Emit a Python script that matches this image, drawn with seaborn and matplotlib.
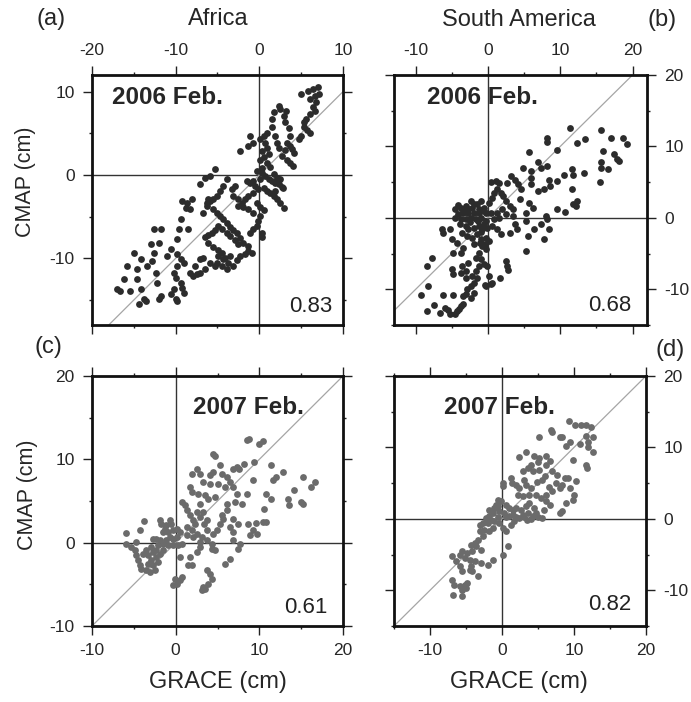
import seaborn as sns
import matplotlib.pyplot as plt
import pandas as pd
from matplotlib.ticker import MultipleLocator

sns.set_style("ticks")
plt.rcParams['font.family'] = ['Liberation Sans', 'DejaVu Sans']
plt.rcParams['axes.unicode_minus'] = False

# (GRACE, CMAP) pairs in cm
africa_2006 = [
    (5.0, 9.7), (5.8, 10.1), (6.4, 10.3), (7.0, 10.6), (6.0, 9.1), (6.6, 9.5), (7.1, 9.7), (6.8, 8.7),
    (6.4, 8.1), (6.7, 7.7), (6.1, 7.3), (5.6, 6.7), (5.3, 6.3), (5.3, 5.7), (5.7, 5.4), (6.0, 5.1),
    (5.0, 4.7), (4.8, 4.3), (2.3, 8.3), (2.5, 7.9), (3.2, 7.7), (2.9, 7.1), (1.7, 7.5), (1.5, 6.7),
    (3.1, 6.3), (3.5, 5.6), (3.7, 4.7), (3.3, 3.9), (3.7, 3.5), (3.9, 3.1), (4.1, 2.7), (3.1, 3.0),
    (2.7, 2.3), (3.3, 1.8), (3.7, 1.4), (4.0, 1.1), (2.1, 3.9), (2.3, 3.3), (0.9, 5.1), (0.5, 4.7),
    (0.1, 4.3), (0.7, 3.9), (0.9, 3.3), (0.3, 2.9), (1.1, 2.5), (0.5, 2.2), (0.1, 1.8), (0.9, 1.4),
    (1.3, 1.0), (0.3, 0.9), (1.5, 5.7), (1.9, 4.7), (-1.1, 4.7), (-0.7, 3.9), (-1.3, 3.5), (-2.3, 2.9),
    (-0.3, 0.5), (0.3, 0.3), (0.7, -0.1), (1.1, -0.5), (1.5, -0.7), (1.9, -0.9), (2.3, -1.1), (1.7, 0.1),
    (2.1, -0.3), (2.5, -0.5), (2.7, -1.4), (0.1, -0.5), (-0.7, -0.7), (-1.1, -0.9), (-1.5, -0.7),
    (-0.5, -1.3), (-0.1, -1.7), (0.5, -1.5), (0.9, -1.9), (1.3, -2.1), (1.7, -2.5), (2.1, -2.9),
    (2.5, -3.4), (2.9, -3.9), (1.9, -1.9), (2.8, -1.6), (-0.7, -2.1), (-1.3, -2.5), (-1.7, -2.9),
    (-2.1, -3.3), (-2.6, -3.7), (-2.9, -1.3), (-3.3, -1.7), (-3.1, -2.5), (-2.5, -2.9), (-1.9, -3.8),
    (-1.3, -4.1), (-0.7, -4.5), (-0.3, -3.3), (0.1, -3.8), (0.5, -4.2), (0.1, -4.9), (-0.1, -5.5),
    (0.3, -6.9), (0.3, -7.4), (-0.3, -6.1), (-0.7, -6.5), (-1.1, -6.9), (-3.9, -0.5), (-4.3, -1.3),
    (-4.7, -1.9), (-5.1, -2.5), (-5.5, -2.9), (-5.9, -3.1), (-6.3, -3.4), (-5.5, -4.1), (-5.1, -4.5),
    (-4.7, -4.9), (-4.3, -5.3), (-3.9, -5.7), (-3.5, -6.2), (-3.1, -6.6), (-2.7, -7.0), (-2.3, -7.5),
    (-2.9, -7.8), (-3.5, -7.3), (-3.9, -6.9), (-4.5, -6.5), (-4.9, -6.1), (-5.3, -6.6), (-5.7, -7.0),
    (-6.1, -7.2), (-6.5, -7.4), (-6.1, -8.1), (-5.5, -8.6), (-4.9, -9.0), (-4.5, -9.4), (-4.1, -9.9),
    (-3.7, -10.5), (-3.1, -10.9), (-2.7, -10.2), (-2.3, -9.7), (-1.7, -9.5), (-1.4, -9.1), (-0.9, -9.3),
    (-1.3, -8.5), (-1.9, -8.1), (-2.5, -8.3), (-5.3, 0.7), (-5.9, -0.1), (-6.5, -0.3), (-7.1, -1.1),
    (-6.1, -2.9), (-6.3, -3.7), (-6.7, -4.5), (-4.9, -9.7), (-5.1, -10.5), (-5.3, -10.9), (-5.9, -10.5),
    (-6.5, -11.3), (-7.1, -11.7), (-7.5, -11.9), (-7.9, -12.1), (-7.1, -10.1), (-6.7, -9.9),
    (-3.9, -11.3), (-4.5, -10.9), (-3.5, -9.7), (-4.3, -10.1), (-8.7, -3.3), (-8.8, -3.9), (-9.2, -3.1),
    (-8.1, -2.9), (-8.3, -4.1), (-9.4, -5.3), (-8.5, -6.5), (-9.6, -6.5), (-9.8, -7.7), (-9.8, -9.5),
    (-9.4, -10.1), (-9.0, -10.5), (-9.8, -10.9), (-10.2, -11.7), (-10.0, -12.3), (-9.4, -12.9),
    (-9.2, -13.5), (-9.0, -14.1), (-10.2, -13.7), (-10.6, -14.3), (-10.0, -14.9), (-9.8, -15.1),
    (-12.6, -6.5), (-11.8, -6.5), (-12.0, -8.1), (-13.0, -8.3), (-12.6, -9.3), (-12.8, -10.3),
    (-13.4, -10.9), (-14.2, -10.1), (-14.6, -11.3), (-15.0, -9.3), (-15.8, -10.9), (-16.2, -12.5),
    (-17.0, -13.7), (-16.6, -13.9), (-15.4, -13.9), (-14.6, -12.5), (-14.2, -13.7), (-13.8, -14.9),
    (-13.6, -15.1), (-14.4, -15.5), (-12.4, -11.7), (-12.2, -12.9), (-11.8, -14.5), (-12.0, -14.9),
    (-10.6, -8.9), (-11.0, -9.7), (-8.3, -11.7), (-7.7, -10.9),
]

samerica_2006 = [
    (11.4, 12.6), (15.6, 12.3), (17.0, 11.2), (18.7, 11.2), (19.2, 10.4), (8.1, 11.2), (8.2, 10.6),
    (12.3, 10.5), (13.4, 11.0), (9.6, 9.5), (5.7, 9.2), (15.9, 9.3), (17.5, 9.0), (17.9, 8.3),
    (18.1, 7.9), (15.6, 7.8), (15.6, 7.0), (16.6, 6.8), (15.5, 5.0), (13.3, 6.3), (11.6, 6.8),
    (11.8, 6.0), (10.5, 6.0), (9.6, 5.1), (8.4, 5.3), (8.1, 7.2), (6.9, 7.8), (7.4, 7.0), (5.9, 6.5),
    (4.8, 7.0), (3.2, 5.8), (2.7, 4.9), (3.8, 5.3), (4.1, 4.8), (5.9, 5.6), (6.0, 4.7), (6.9, 3.7),
    (7.7, 4.0), (8.6, 4.4), (11.6, 4.0), (12.3, 2.3), (11.8, 1.9), (12.2, 1.7), (9.6, 1.2), (10.7, 0.8),
    (6.2, 1.4), (5.7, 2.1), (4.4, 2.6), (5.3, 0.7), (5.2, -0.5), (8.0, 0.2), (8.1, -0.2), (7.4, -0.9),
    (8.4, -1.6), (7.7, -3.0), (6.3, -1.6), (5.5, -2.6), (5.3, -4.7), (3.7, -0.9), (4.0, -1.6),
    (3.0, -2.1), (2.5, -6.0), (2.7, -6.7), (2.8, -7.3), (1.6, -8.4), (0.6, -9.1), (0.4, -9.3),
    (-0.4, -9.4), (-4.6, 1.2), (-3.8, 1.4), (-3.1, 1.6), (-2.4, 2.3), (-2.2, 1.4), (-1.5, 1.9),
    (-1.0, 2.3), (-0.6, 1.4), (0.1, 2.1), (0.6, 2.8), (0.8, 3.5), (0.4, 5.0), (1.1, 5.1), (1.5, 4.9),
    (1.3, 4.0), (1.8, 3.5), (2.1, 3.0), (2.5, 2.3), (3.0, 1.6), (3.4, 1.2), (2.0, 1.2), (1.3, 0.7),
    (2.5, 0.5), (3.4, 0.3), (1.5, 0.0), (0.8, -0.2), (0.4, 0.7), (-0.3, 0.7), (-1.3, 0.7), (-2.0, 0.7),
    (-2.7, 0.7), (-3.4, 0.7), (-4.1, 0.5), (-4.6, 0.0), (-3.8, -0.2), (-3.1, -0.2), (-2.4, 0.0),
    (-1.7, -0.2), (-1.0, 0.0), (-0.3, -0.5), (-3.1, -1.2), (-2.7, -1.6), (-2.0, -1.4), (-1.3, -1.2),
    (-0.8, -1.6), (-0.1, -1.4), (0.6, -1.2), (1.3, -1.6), (1.8, -2.3), (-3.6, -2.1), (-2.9, -2.6),
    (-2.2, -2.8), (-1.5, -2.3), (-1.0, -3.0), (-0.3, -2.8), (0.1, -3.3), (-0.8, -4.0), (-0.3, -4.4),
    (-1.3, -4.9), (-1.7, -5.6), (-1.0, -5.8), (-0.6, -6.5), (-1.3, -6.7), (-1.7, -7.4), (-2.2, -8.1),
    (-1.5, -8.4), (-1.9, -9.1), (-2.4, -9.5), (-2.9, -10.0), (-3.1, -10.7), (-2.4, -11.2), (-1.9, -10.5),
    (-3.8, -4.9), (-3.4, -4.2), (-4.3, -3.5), (-5.0, -3.0), (-4.8, -4.9), (-5.0, -7.2), (-4.8, -7.9),
    (-3.8, -7.7), (-3.1, -7.4), (-3.6, -6.7), (-2.7, -6.3), (-3.0, -8.4), (-6.3, -1.5), (-6.2, -2.1),
    (-5.3, -1.6), (-0.1, -6.7), (0.1, -8.1), (-0.3, -9.5), (-7.7, -5.6), (-8.5, -6.7), (-8.3, -9.6),
    (-9.2, -10.8), (-8.5, -13.0), (-7.5, -12.2), (-6.7, -13.3), (-6.2, -10.8), (-5.9, -12.6),
    (-5.5, -12.9), (-5.3, -13.5), (-4.8, -10.8), (-4.3, -13.0), (-3.8, -12.3), (-3.5, -12.1),
    (-3.4, -10.9), (-4.0, -12.8), (-4.6, -13.5), (4.6, 4.0), (-4.2, 1.8), (-3.5, 1.0), (-2.8, 1.2),
    (-2.0, 1.9), (-1.2, 1.2), (-0.5, 1.0), (-3.9, -0.8), (-2.5, -0.6), (-1.4, -0.5), (-0.6, -0.9),
    (-0.9, -2.0), (-0.4, -3.6), (-1.1, -3.5), (-2.0, -3.6),
]

africa_2007 = [
    (8.5, 12.3), (8.8, 12.4), (10.0, 11.9), (10.4, 12.2), (4.5, 10.6), (4.7, 10.4), (11.4, 9.3),
    (12.8, 8.5), (12.0, 7.9), (11.6, 7.5), (15.2, 7.9), (16.7, 7.3), (16.2, 6.7), (14.2, 6.3),
    (13.4, 5.3), (13.5, 4.5), (15.0, 4.9), (15.2, 4.6), (10.8, 5.9), (11.4, 5.3), (10.6, 4.1),
    (10.4, 2.5), (10.8, 2.5), (9.6, 2.4), (9.7, 1.1), (8.6, 2.3), (9.2, 1.5), (8.9, 0.9), (9.4, 9.7),
    (9.3, 7.5), (7.3, 9.1), (7.6, 8.9), (8.2, 9.5), (6.9, 8.9), (5.3, 9.3), (5.5, 8.3), (6.1, 7.9),
    (6.5, 7.3), (6.9, 6.7), (5.9, 6.7), (4.5, 8.5), (4.1, 8.1), (2.9, 8.3), (2.5, 8.9), (1.9, 8.3),
    (3.3, 7.3), (4.1, 7.1), (5.1, 7.1), (7.3, 5.9), (8.5, 5.9), (7.9, 4.7), (7.1, 4.9), (6.1, 4.7),
    (6.1, 3.9), (5.5, 3.3), (5.7, 2.9), (6.9, 2.9), (7.5, 2.3), (6.5, 1.9), (6.9, 1.3), (5.3, 2.3),
    (4.9, 1.5), (4.5, 1.1), (3.7, 2.7), (2.9, 3.1), (2.5, 3.7), (3.3, 3.7), (2.9, 4.7), (3.9, 5.3),
    (4.7, 5.5), (3.5, 5.7), (2.7, 5.9), (1.9, 6.1), (1.7, 6.7), (0.8, 4.9), (1.1, 4.5), (1.3, 3.9),
    (1.7, 3.3), (2.1, 2.7), (2.3, 2.3), (1.3, 1.9), (1.9, 1.5), (2.5, 1.1), (3.1, 0.7), (3.7, 0.3),
    (4.3, -0.1), (2.9, 0.1), (2.1, 0.7), (1.3, 0.9), (3.7, 1.5), (3.4, 2.3), (6.9, 0.3), (7.7, -0.1),
    (7.5, -0.7), (6.5, -1.9), (5.9, -2.5), (4.7, -0.9), (4.3, -0.7), (2.9, -0.5), (2.5, -1.1),
    (1.7, -1.7), (0.5, -1.7), (1.5, -2.7), (1.9, -2.7), (0.7, -4.1), (0.5, -4.5), (-0.1, -4.3),
    (-0.3, -5.1), (0.1, -4.9), (3.7, -3.3), (4.1, -3.7), (4.3, -4.3), (3.9, -4.9), (3.5, -5.5),
    (3.1, -5.7), (3.3, -5.3), (-0.7, 2.7), (-0.5, 2.3), (-1.1, 2.1), (-1.3, 1.7), (-1.5, 1.3),
    (-0.9, 1.3), (-0.3, 1.5), (0.1, 1.7), (0.5, 1.3), (-0.7, 0.7), (-0.3, 0.5), (0.1, 0.7), (-1.1, 0.3),
    (-1.9, 0.3), (-2.3, 0.5), (-2.7, 0.5), (-1.5, -0.1), (-0.9, -0.3), (-0.3, -0.3), (0.3, -0.3),
    (0.7, -0.1), (-2.1, -0.3), (-2.9, -0.5), (-3.5, -0.9), (-3.9, -1.3), (-3.3, -1.5), (-2.7, -1.1),
    (-2.3, -0.9), (-1.9, -1.3), (-1.5, -0.9), (-2.3, -1.7), (-2.9, -2.1), (-3.3, -2.5), (-2.7, -2.7),
    (-2.1, -2.3), (-3.5, -3.3), (-3.1, -3.5), (-2.5, -3.3), (-4.3, -2.7), (-4.1, -3.1), (-4.5, -2.1),
    (-4.7, -1.5), (-4.9, -0.9), (-5.3, -0.5), (-5.9, -0.1), (-5.9, 1.2), (-4.7, 0.1), (-4.3, 1.5),
    (-3.8, 2.6), (-1.9, 2.7), (-1.7, 2.3),
]

samerica_2007 = [
    (9.3, 13.7), (10.2, 13.2), (11.0, 13.1), (11.6, 13.1), (12.4, 12.8), (6.8, 12.4), (7.0, 12.2),
    (5.1, 11.4), (8.0, 11.4), (8.3, 11.4), (11.6, 11.6), (12.7, 11.4), (12.0, 10.7), (10.9, 10.5),
    (9.4, 10.7), (8.9, 10.2), (12.7, 9.3), (12.0, 10.0), (9.8, 8.3), (11.6, 7.6), (11.8, 7.1),
    (3.3, 9.3), (2.4, 8.6), (4.5, 8.8), (5.1, 8.5), (6.1, 8.8), (6.7, 8.1), (6.1, 7.6), (5.0, 7.9),
    (4.0, 7.6), (3.6, 7.1), (2.9, 6.7), (4.3, 6.7), (5.2, 6.9), (7.0, 6.7), (7.7, 6.2), (8.7, 5.7),
    (9.1, 5.7), (10.3, 5.3), (8.4, 4.8), (9.4, 4.3), (8.0, 4.3), (7.0, 3.9), (6.1, 3.4), (10.0, 3.4),
    (9.8, 2.7), (8.9, 2.2), (8.4, 1.1), (8.0, 0.8), (1.2, 5.7), (1.4, 5.0), (0.1, 5.0), (0.1, 4.6),
    (1.9, 4.8), (2.4, 4.3), (3.3, 4.8), (4.0, 4.3), (2.2, 3.4), (2.9, 3.2), (3.8, 3.4), (4.7, 3.4),
    (5.4, 2.9), (6.1, 2.5), (6.6, 2.0), (5.9, 1.3), (5.6, 0.1), (4.7, 0.8), (4.3, 0.4), (3.6, 0.8),
    (2.9, 0.6), (2.4, 0.1), (1.7, -0.3), (1.3, -0.8), (1.0, 0.4), (0.3, 0.8), (-0.4, 1.1), (-0.8, 2.0),
    (-0.6, 2.7), (-0.1, 2.5), (0.6, 2.0), (1.0, 1.5), (1.5, 1.3), (1.9, 1.5), (2.6, 1.3), (3.3, 1.8),
    (-1.3, 0.8), (-1.8, 0.4), (-2.2, 0.1), (-2.7, -0.6), (-2.0, -0.6), (-1.1, -0.3), (-0.4, -0.6),
    (0.1, -1.3), (0.6, -1.7), (0.8, -3.8), (0.1, -5.0), (-1.3, -1.3), (-1.8, -1.7), (-2.5, -1.5),
    (-3.1, -1.7), (-2.7, -2.4), (-3.4, -2.9), (-3.8, -3.4), (-4.3, -3.6), (-3.6, -3.8), (-2.9, -4.3),
    (-4.1, -4.5), (-4.8, -4.8), (-5.5, -4.5), (-5.9, -5.0), (-6.9, -5.2), (-5.2, -5.5), (-4.5, -5.7),
    (-3.8, -5.9), (-2.9, -6.2), (-2.0, -6.4), (-1.3, -5.7), (-4.3, -6.6), (-4.5, -7.1), (-4.1, -7.3),
    (-3.4, -8.0), (-5.5, -7.3), (-5.9, -6.6), (-6.4, -5.9), (-6.9, -8.5), (-6.6, -9.2), (-5.9, -9.4),
    (-5.2, -9.2), (-4.8, -9.0), (-5.5, -9.9), (-5.0, -9.7), (-6.8, -10.6), (-5.5, -10.8), (-1.8, 1.3),
    (-1.1, 1.5), (-0.6, 1.8), (-3.1, -0.8), (3.0, 0.2), (4.0, 0.0), (5.0, 0.3), (3.5, -0.2), (2.0, 0.3),
    (1.5, 0.6), (0.5, 0.3), (-0.5, 0.2), (-1.5, -0.1), (4.5, 1.5), (3.8, 2.2), (6.5, 4.5), (7.5, 5.0),
    (5.5, 5.5), (6.0, 6.0), (4.8, 5.2), (3.0, 5.5),
]

years = ["2006 Feb.", "2006 Feb.", "2007 Feb.", "2007 Feb."]
corr = ["0.83", "0.68", "0.61", "0.82"]
regions = ["Africa", "South America"]
letters = ["(a)", "(b)", "(c)", "(d)"]

W, H = 691, 702
fig = plt.figure(figsize=(W / 100, H / 100), dpi=100)


def px(x, y):
    return x / W, 1 - y / H


# panel boxes in pixels: left, top, right, bottom
boxes = [(92, 75, 343, 325), (394, 75, 647, 325), (92, 376, 343, 626), (394, 376, 646, 626)]
limits = [((-20, 10), (-18, 12)), ((-13, 22), (-15, 20)),
          ((-10, 20), (-10, 20)), ((-15, 20), (-15, 20))]
data = [africa_2006, samerica_2006, africa_2007, samerica_2007]
colors = ['#2c2c2c', '#2c2c2c', '#6b6b6b', '#6b6b6b']
year_pos = [(0.08, 0.908), (0.13, 0.908), (0.402, 0.872), (0.198, 0.872)]
corr_pos = [(0.956, 0.052), (0.937, 0.058), (0.94, 0.052), (0.94, 0.062)]

for i in range(4):
    l, t, r, b = boxes[i]
    x0, y0 = px(l, b)
    ax = fig.add_axes([x0, y0, (r - l) / W, (b - t) / H])
    df = pd.DataFrame(data[i], columns=['GRACE', 'CMAP'])

    ax.axhline(0, color='#333333', lw=1.0, zorder=1)
    ax.axvline(0, color='#333333', lw=1.0, zorder=1)
    ax.axline((0, 0), slope=1, color='#a5a5a5', lw=0.9, zorder=1)
    sns.scatterplot(data=df, x='GRACE', y='CMAP', ax=ax, color=colors[i],
                    s=24, linewidth=0, legend=False, zorder=3)

    ax.set_xlim(*limits[i][0])
    ax.set_ylim(*limits[i][1])
    ax.set_xlabel('')
    ax.set_ylabel('')
    for a in (ax.xaxis, ax.yaxis):
        a.set_major_locator(MultipleLocator(10))
        a.set_minor_locator(MultipleLocator(5))
    top_row = i < 2
    right_col = i % 2 == 1
    ax.tick_params(which='both', direction='out', top=True, bottom=True, left=True, right=True,
                   labeltop=top_row, labelbottom=not top_row,
                   labelleft=not right_col, labelright=right_col,
                   labelsize=12.5, pad=6, width=1.0, color='#222222')
    ax.tick_params(which='major', length=6.5)
    ax.tick_params(which='minor', length=2.5)
    for s in ax.spines.values():
        s.set_linewidth(2.0)
        s.set_color('#111111')

    ax.text(*year_pos[i], years[i], transform=ax.transAxes, fontsize=17.5,
            fontweight='bold', ha='left', va='center')
    ax.text(*corr_pos[i], corr[i], transform=ax.transAxes, fontsize=16,
            ha='right', va='baseline', color='#222222')

# column titles, panel letters and axis labels
fig.text(*px(218, 19), regions[0], fontsize=17, ha='center', va='center')
fig.text(*px(519, 20), regions[1], fontsize=17, ha='center', va='center')
fig.text(*px(51, 19), letters[0], fontsize=17, ha='center', va='center')
fig.text(*px(662, 20), letters[1], fontsize=17, ha='center', va='center')
fig.text(*px(48, 347), letters[2], fontsize=17, ha='center', va='center')
fig.text(*px(670, 350), letters[3], fontsize=17, ha='center', va='center')
fig.text(*px(25, 182), 'CMAP (cm)', fontsize=15.5, rotation=90, ha='center', va='center')
fig.text(*px(28, 495), 'CMAP (cm)', fontsize=15.5, rotation=90, ha='center', va='center')
fig.text(*px(218, 682), 'GRACE (cm)', fontsize=17, ha='center', va='center')
fig.text(*px(519, 682), 'GRACE (cm)', fontsize=17, ha='center', va='center')

fig.savefig('out.png', dpi=100, facecolor='white')
